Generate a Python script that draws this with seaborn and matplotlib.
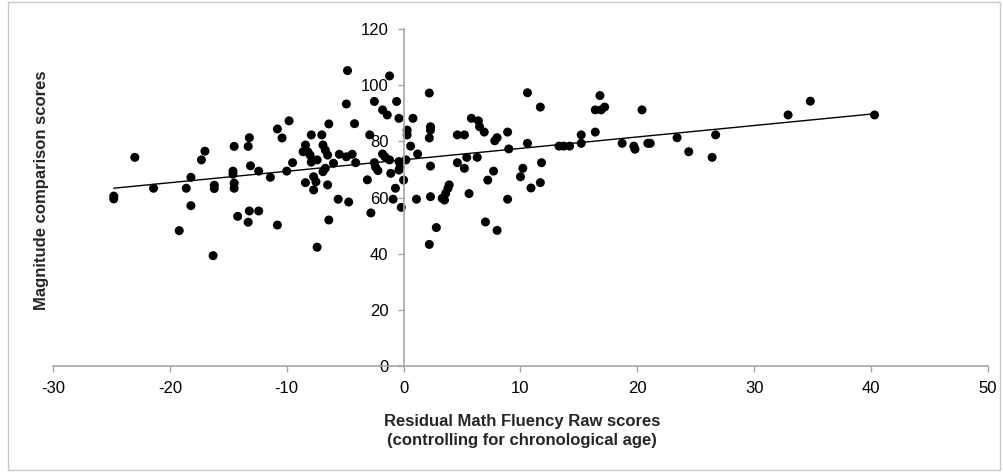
import matplotlib

matplotlib.use("Agg")
import matplotlib.pyplot as plt
import matplotlib.patches as mpatches
import pandas as pd
import seaborn as sns

# residual math fluency (x) vs magnitude comparison score (y)
fluency = [
    -24.8, -24.8, -23.0, -21.4, -19.2, -18.6, -18.2, -18.2, -17.3, -17.0,
    -16.3, -16.2, -16.2, -14.5, -14.6, -14.6, -14.5, -14.5, -14.2, -13.3,
    -13.2, -13.1, -13.3, -13.2, -12.4, -12.4, -11.4, -10.8, -10.4, -10.8,
    -10.0, -9.8, -9.5,
    -8.4, -8.6, -8.2, -8.0, -7.9, -7.0, -6.9, -6.7, -6.5, -6.4,
    -7.9, -7.4, -6.0, -6.9, -6.7, -7.7, -7.5, -8.4, -7.7, -6.5,
    -7.4, -6.4, -5.6,
    -5.5, -4.9, -4.4, -4.1, -4.8, -4.9, -4.2, -4.7, -3.1, -2.8,
    -2.9, -2.5, -1.8, -1.4, -1.2, -0.6, -0.4, -1.8, -1.6, -1.2,
    -2.5, -2.4, -2.2, -1.1, -0.4, -0.3, -0.4, -0.7, -0.9, -0.2,
    0.0, 0.2, 0.3, 0.3, 0.8, 0.6, 1.2, 2.2, 2.3, 2.3,
    2.2, 2.3, 1.1, 2.3, 2.8, 2.2,
    3.3, 3.5, 3.6, 3.8, 3.9, 4.6, 5.2, 4.6, 5.2, 5.4,
    5.6, 5.8,
    6.4, 6.5, 6.9, 6.3, 7.7, 7.2, 7.8, 8.0, 8.9, 9.0,
    8.9, 7.0, 8.0, 10.6, 11.7, 10.6, 10.2, 10.0, 11.8, 11.7,
    10.9,
    13.3, 13.7, 14.2, 15.2, 15.2, 16.4, 16.8, 16.4, 16.9, 17.2,
    18.7, 19.7, 19.8, 20.9, 21.1, 20.4, 23.4, 24.4, 26.4, 26.7,
    32.9, 34.8, 40.3,
]
magnitude = [
    60.5, 59.5, 74.3, 63.3, 48.2, 63.3, 67.2, 57.1, 73.4, 76.5,
    39.3, 64.4, 63.2, 78.2, 69.4, 68.3, 65.1, 63.3, 53.3, 78.2,
    81.3, 71.3, 51.2, 55.2, 55.2, 69.4, 67.2, 84.4, 81.2, 50.2,
    69.4, 87.3, 72.4,
    78.7, 76.3, 76.3, 75.1, 82.3, 82.3, 78.7, 76.9, 75.1, 86.2,
    72.6, 73.4, 72.2, 69.2, 70.4, 67.4, 65.6, 65.3, 62.7, 64.5,
    42.3, 52.0, 59.4,
    75.4, 74.5, 75.4, 72.4, 105.2, 93.3, 86.3, 58.4, 66.3, 54.5,
    82.3, 94.2, 91.2, 89.4, 103.3, 94.2, 88.2, 75.5, 74.5, 73.4,
    72.4, 70.8, 69.6, 68.6, 72.8, 70.8, 69.8, 63.3, 59.4, 56.5,
    66.2, 73.4, 84.0, 82.3, 88.2, 78.3, 75.5, 97.2, 85.2, 84.0,
    81.2, 71.2, 59.4, 60.3, 49.3, 43.3,
    59.7, 59.1, 61.5, 63.3, 64.5, 82.3, 82.3, 72.4, 70.4, 74.3,
    61.4, 88.2,
    87.3, 85.2, 83.3, 74.3, 69.4, 66.2, 80.2, 81.3, 83.3, 77.3,
    59.4, 51.3, 48.3, 97.3, 92.2, 79.3, 70.4, 67.4, 72.4, 65.3,
    63.4,
    78.3, 78.3, 78.3, 82.3, 79.3, 83.3, 96.3, 91.2, 91.2, 92.2,
    79.3, 78.3, 77.2, 79.3, 79.3, 91.2, 81.3, 76.3, 74.3, 82.3,
    89.4, 94.3, 89.4,
]
x_ticks = [-30, -20, -10, 0, 10, 20, 30, 40, 50]
y_ticks = [0, 20, 40, 60, 80, 100, 120]


def main():
    df = pd.DataFrame({"fluency": fluency, "magnitude": magnitude})

    sns.set_style("white")
    plt.rcParams["font.family"] = ["Liberation Sans", "DejaVu Sans"]
    plt.rcParams["axes.unicode_minus"] = False

    fig = plt.figure(figsize=(10.04, 4.74), dpi=100)
    ax = fig.add_axes([0.0528, 0.2278, 0.9312, 0.711])

    sns.regplot(
        data=df,
        x="fluency",
        y="magnitude",
        ax=ax,
        ci=None,
        scatter_kws={"s": 42, "color": "black", "edgecolor": "none", "alpha": 1},
        line_kws={"color": "black", "linewidth": 1.0},
    )

    ax.set_xlim(-30, 50)
    ax.set_ylim(0, 120)
    ax.set_xticks(x_ticks)
    ax.set_yticks(y_ticks)
    ax.set_xlabel("")
    ax.set_ylabel("")

    # axes cross at the origin, excel style
    grey = "#a6a6a6"
    ax.spines["left"].set_position(("data", 0))
    ax.spines["bottom"].set_position(("data", 0))
    for side in ["top", "right"]:
        ax.spines[side].set_visible(False)
    for side in ["left", "bottom"]:
        ax.spines[side].set_color(grey)
        ax.spines[side].set_linewidth(1.2)
    ax.tick_params(
        axis="both", direction="out", length=4, width=1.0, color=grey,
        labelsize=12, pad=7, labelcolor="black",
    )
    ax.tick_params(axis="both", bottom=True, left=True)

    fig.text(
        42 / 1004, 1 - 190 / 474, "Magnitude comparison scores",
        rotation=90, ha="center", va="center", fontsize=12, fontweight="bold",
    )
    fig.text(
        522 / 1004, 1 - 431 / 474,
        "Residual Math Fluency Raw scores\n(controlling for chronological age)",
        ha="center", va="center", fontsize=12, fontweight="bold", linespacing=1.4,
    )

    # thin grey frame round the whole chart
    fig.patches.append(
        mpatches.Rectangle(
            (8 / 1004, 4 / 474), 992 / 1004, 468 / 474,
            transform=fig.transFigure, fill=False, edgecolor="#c8c8c8", linewidth=1.0,
        )
    )

    fig.savefig("out.png", dpi=100)


if __name__ == "__main__":
    main()
